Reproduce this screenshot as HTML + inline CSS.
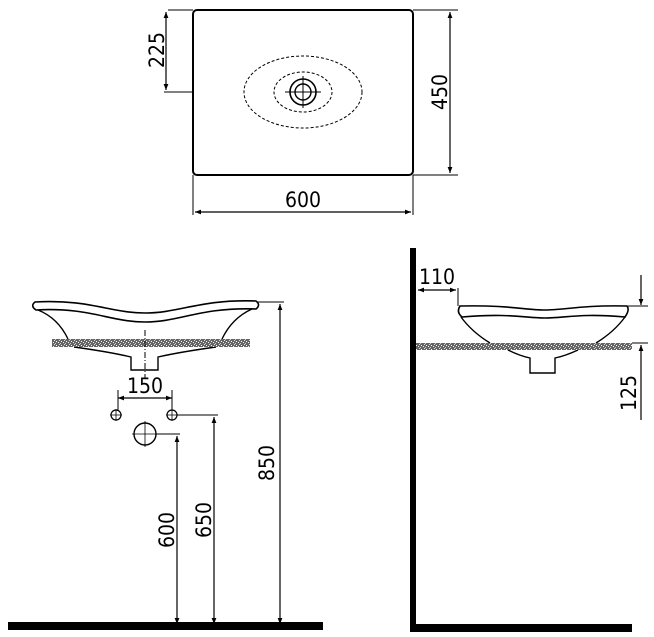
<!DOCTYPE html>
<html><head><meta charset="utf-8"><style>
html,body{margin:0;padding:0;background:#fff;}
svg{display:block;}
text{font-family:"DejaVu Sans Condensed","Liberation Sans",sans-serif;font-size:21px;fill:#000;}
</style></head><body>
<svg width="654" height="637" viewBox="0 0 654 637" xmlns="http://www.w3.org/2000/svg">
<defs>
<marker id="a" viewBox="0 0 10 10" refX="10" refY="5" markerWidth="12" markerHeight="6" markerUnits="userSpaceOnUse" orient="auto-start-reverse"><path d="M0,1 L10,5 L0,9 z" fill="#000"/></marker>
<pattern id="g" width="5" height="4" patternUnits="userSpaceOnUse"><rect width="5" height="4" fill="#666"/><rect x="1" y="1" width="1" height="1" fill="#fff"/><rect x="3" y="2" width="1" height="1" fill="#eee"/><rect x="0" y="3" width="1" height="1" fill="#ccc"/><rect x="4" y="0" width="1" height="1" fill="#ddd"/></pattern>
</defs>
<g fill="none" stroke="#000" stroke-width="1.2">
<rect x="193" y="10" width="220" height="165" rx="4" stroke-width="2"/>
<ellipse cx="303" cy="92" rx="59" ry="36" stroke-dasharray="3,2" stroke-width="1"/>
<ellipse cx="303" cy="92" rx="29" ry="20" stroke-dasharray="3,2" stroke-width="1"/>
<circle cx="303" cy="92" r="13" stroke-width="1.6"/>
<circle cx="303" cy="92" r="8" stroke-width="1.4"/>
<path d="M285,92 H321 M303,76 V108" stroke-width="1"/>
<path d="M193,10 H168 M193,92 H164 M413,10 H458 M413,175 H458 M193,175 V215 M413,175 V215" stroke-width="1"/>
<line x1="166" y1="12" x2="166" y2="90" marker-start="url(#a)" marker-end="url(#a)"/>
<line x1="450" y1="12" x2="450" y2="173" marker-start="url(#a)" marker-end="url(#a)"/>
<line x1="195" y1="212" x2="411" y2="212" marker-start="url(#a)" marker-end="url(#a)"/>
<path d="M35,302 C90,299 110,313 145,313 C180,313 200,299 256,301 Q261,305 256,309 C200,307 180,322 145,322 C110,322 90,307 36,310 Q30,306 35,302 Z" stroke-width="1.6"/>
<path d="M38,310 Q58,318 68,339 M252,309 Q232,318 222,339" stroke-width="1.4"/>
<path d="M74,347 Q110,352 131,357 V370 H158 V357 Q180,352 216,347" stroke-width="1.4"/>
<rect x="52" y="339" width="198" height="8" fill="url(#g)" stroke="none"/>
<path d="M145,330 V378" stroke-width="1" stroke-dasharray="6,2,1,2"/>
<line x1="118" y1="390" x2="118" y2="410" stroke-width="1"/>
<line x1="172" y1="390" x2="172" y2="410" stroke-width="1"/>
<line x1="118" y1="398" x2="172" y2="398" marker-start="url(#a)" marker-end="url(#a)"/>
<circle cx="116" cy="415" r="5"/><path d="M110,415 H122 M116,409 V421" stroke-width="0.8"/>
<circle cx="172" cy="415" r="5"/><path d="M166,415 H178 M172,409 V421" stroke-width="0.8"/>
<circle cx="145" cy="434" r="11" stroke-width="1.4"/><path d="M132,434 H158 M145,421 V447" stroke-width="0.8"/>
<path d="M177,415 H218 M156,434 H180 M258,302 H284" stroke-width="1"/>
<line x1="177" y1="436" x2="177" y2="624" marker-start="url(#a)" marker-end="url(#a)"/>
<line x1="214" y1="417" x2="214" y2="624" marker-start="url(#a)" marker-end="url(#a)"/>
<line x1="280" y1="304" x2="280" y2="624" marker-start="url(#a)" marker-end="url(#a)"/>
<path d="M460,306 C510,305 525,310 545,310 C565,310 580,305 627,306 Q630,310 625,317 C580,313 565,318 545,318 C525,318 510,313 462,317 Q456,312 460,306 Z" stroke-width="1.6"/>
<path d="M461,317 Q472,332 490,343 M625,317 Q614,332 596,343" stroke-width="1.4"/>
<path d="M508,350 Q520,356 530,358 V373 H555 V358 Q565,356 578,350" stroke-width="1.4"/>
<rect x="416" y="343" width="216" height="7" fill="url(#g)" stroke="none"/>
<path d="M458,288 V306 M628,306 H648 M632,343 H648" stroke-width="1"/>
<line x1="418" y1="290" x2="456" y2="290" marker-start="url(#a)" marker-end="url(#a)"/>
<line x1="641" y1="275" x2="641" y2="305" marker-end="url(#a)"/>
<line x1="641" y1="420" x2="641" y2="345" marker-end="url(#a)"/>
</g>
<rect x="8" y="622" width="315" height="8" fill="#000"/>
<rect x="410" y="248" width="6" height="384" fill="#000"/>
<rect x="410" y="624" width="222" height="8" fill="#000"/>
<text x="303" y="207" text-anchor="middle">600</text>
<text transform="translate(164,50) rotate(-90)" text-anchor="middle">225</text>
<text transform="translate(447,92) rotate(-90)" text-anchor="middle">450</text>
<text x="145" y="393" text-anchor="middle">150</text>
<text transform="translate(274,463) rotate(-90)" text-anchor="middle">850</text>
<text transform="translate(211,520) rotate(-90)" text-anchor="middle">650</text>
<text transform="translate(174,530) rotate(-90)" text-anchor="middle">600</text>
<text x="437" y="284" text-anchor="middle">110</text>
<text transform="translate(636,393) rotate(-90)" text-anchor="middle">125</text>
</svg>
</body></html>
